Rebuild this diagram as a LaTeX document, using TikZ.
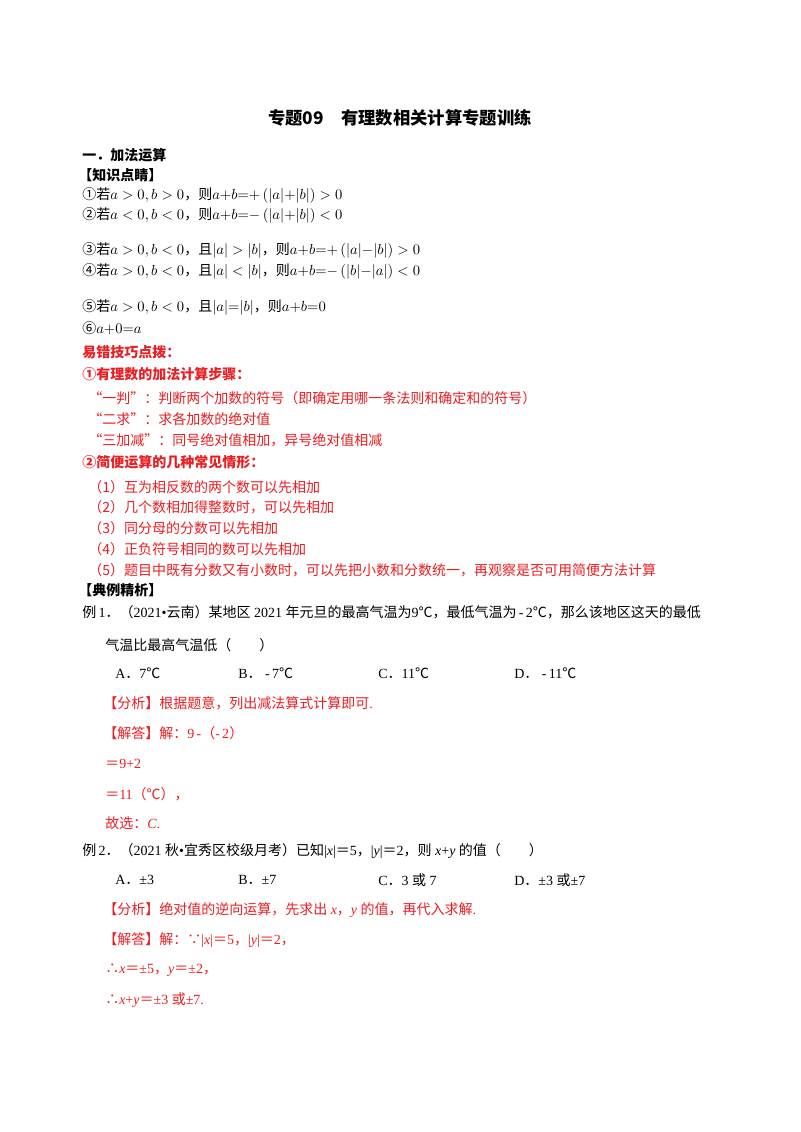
\documentclass[tikz,border=0pt]{standalone}
\usepackage{fontspec}
\setmainfont{Noto Sans CJK SC}
\newfontfamily\ser{Liberation Serif}
\newfontfamily\cj{Noto Sans CJK SC}
\newcommand\dg{{\cj ℃}}
\newcommand\fd{{\cj ．}}
\newcommand\fe{{\cj ＝}}
\definecolor{rd}{RGB}{235,30,35}
\begin{document}
\begin{tikzpicture}[x=0.75pt,y=-0.75pt,
 t/.style={anchor=west,inner sep=0pt,font=\fontsize{10.5}{12}\selectfont},
 r/.style={t,text=rd},
 b/.style={t,font=\fontsize{10.5}{12}\selectfont\bfseries},
 rb/.style={b,text=rd},
 s/.style={t,font=\fontsize{10.5}{12}\selectfont\ser},
 sr/.style={s,text=rd}]
\useasboundingbox (0,0) rectangle (800,1132);
\fill[white] (0,0) rectangle (800,1132);
\node[anchor=center,inner sep=0pt,font=\fontsize{13}{15}\selectfont\bfseries] (title) at (400,118) {专题09\quad 有理数相关计算专题训练};
\node[b] (h1) at (82,155) {一．加法运算};
\node[b] (h2) at (78,175) {【知识点睛】};
\node[t] (k1) at (82,195) {①若$a>0,b>0$，则$a{+}b{=}{+}\,(|a|{+}|b|)>0$};
\node[t] (k2) at (82,215) {②若$a<0,b<0$，则$a{+}b{=}{-}\,(|a|{+}|b|)<0$};
\node[t] (k3) at (82,250) {③若$a>0,b<0$，且$|a|>|b|$，则$a{+}b{=}{+}\,(|a|{-}|b|)>0$};
\node[t] (k4) at (82,271) {④若$a>0,b<0$，且$|a|<|b|$，则$a{+}b{=}{-}\,(|b|{-}|a|)<0$};
\node[t] (k5) at (82,307) {⑤若$a>0,b<0$，且$|a|{=}|b|$，则$a{+}b{=}0$};
\node[t] (k6) at (82,328) {⑥$a{+}0{=}a$};
\node[rb] (e0) at (82,352) {易错技巧点拨：};
\node[rb] (e1) at (82,374) {①有理数的加法计算步骤：};
\node[r] (e2) at (88,398) {“一判”：判断两个加数的符号（即确定用哪一条法则和确定和的符号）};
\node[r] (e3) at (88,419) {“二求”：求各加数的绝对值};
\node[r] (e4) at (88,440) {“三加减”：同号绝对值相加，异号绝对值相减};
\node[rb] (e5) at (82,462) {②简便运算的几种常见情形：};
\node[r] (f1) at (88,487) {（1）互为相反数的两个数可以先相加};
\node[r] (f2) at (88,507) {（2）几个数相加得整数时，可以先相加};
\node[r] (f3) at (88,528) {（3）同分母的分数可以先相加};
\node[r] (f4) at (88,549) {（4）正负符号相同的数可以先相加};
\node[r] (f5) at (88,570) {（5）题目中既有分数又有小数时，可以先把小数和分数统一，再观察是否可用简便方法计算};
\node[b] (h3) at (78,590) {【典例精析】};
\node[t] (q1) at (82,612) {例{\ser\,1}．（{\ser 2021•}云南）某地区{\ser\ 2021 }年元旦的最高气温为{\ser 9}℃，最低气温为{\ser\,-\,2}℃，那么该地区这天的最低};
\node[t] (q1b) at (105,645) {气温比最高气温低（\qquad）};
\node[s] (a1) at (115,673) {A\fd 7\dg};
\node[s] (b1) at (238,673) {B\fd\ -\,7\dg};
\node[s] (c1) at (378,673) {C\fd 11\dg};
\node[s] (d1) at (514,673) {D\fd\ -\,11\dg};
\node[r] (p1) at (103,703) {【分析】根据题意，列出减法算式计算即可{\ser .}};
\node[r] (s1) at (103,733) {【解答】解：{\ser 9\,-}（{\ser -\,2}）};
\node[sr] (s2) at (105,764) {\fe 9+2};
\node[sr] (s3) at (105,794) {\fe 11{\cj （℃），}};
\node[r] (s4) at (105,823) {故选：{\ser\itshape C}{\ser .}};
\node[t] (q2) at (82,851) {例{\ser\,2}．（{\ser 2021 }秋{\ser•}宜秀区校级月考）已知{\ser|\textit{x}|}＝{\ser 5}，{\ser|\textit{y}|}＝{\ser 2}，则{\ser\ \textit{x}+\textit{y} }的值（\qquad）};
\node[s] (a2) at (115,880) {A\fd ±3};
\node[s] (b2) at (238,880) {B\fd ±7};
\node[t] (c2) at (378,880) {{\ser C}．{\ser 3 }或{\ser\ 7}};
\node[t] (d2) at (514,880) {{\ser D}．{\ser ±3 }或{\ser ±7}};
\node[r] (p2) at (103,910) {【分析】绝对值的逆向运算，先求出{\ser\ \textit{x}}，{\ser\textit{y}\ }的值，再代入求解{\ser .}};
\node[r] (s5) at (103,940) {【解答】解：∵{\ser|\textit{x}|}＝{\ser 5}，{\ser|\textit{y}|}＝{\ser 2}，};
\node[r] (s6) at (105,970) {∴{\ser\textit{x}}＝{\ser ±5}，{\ser\textit{y}}＝{\ser ±2}，};
\node[r] (s7) at (105,1000) {∴{\ser\textit{x}+\textit{y}}＝{\ser ±3 }或{\ser ±7.}};
\end{tikzpicture}
\end{document}
